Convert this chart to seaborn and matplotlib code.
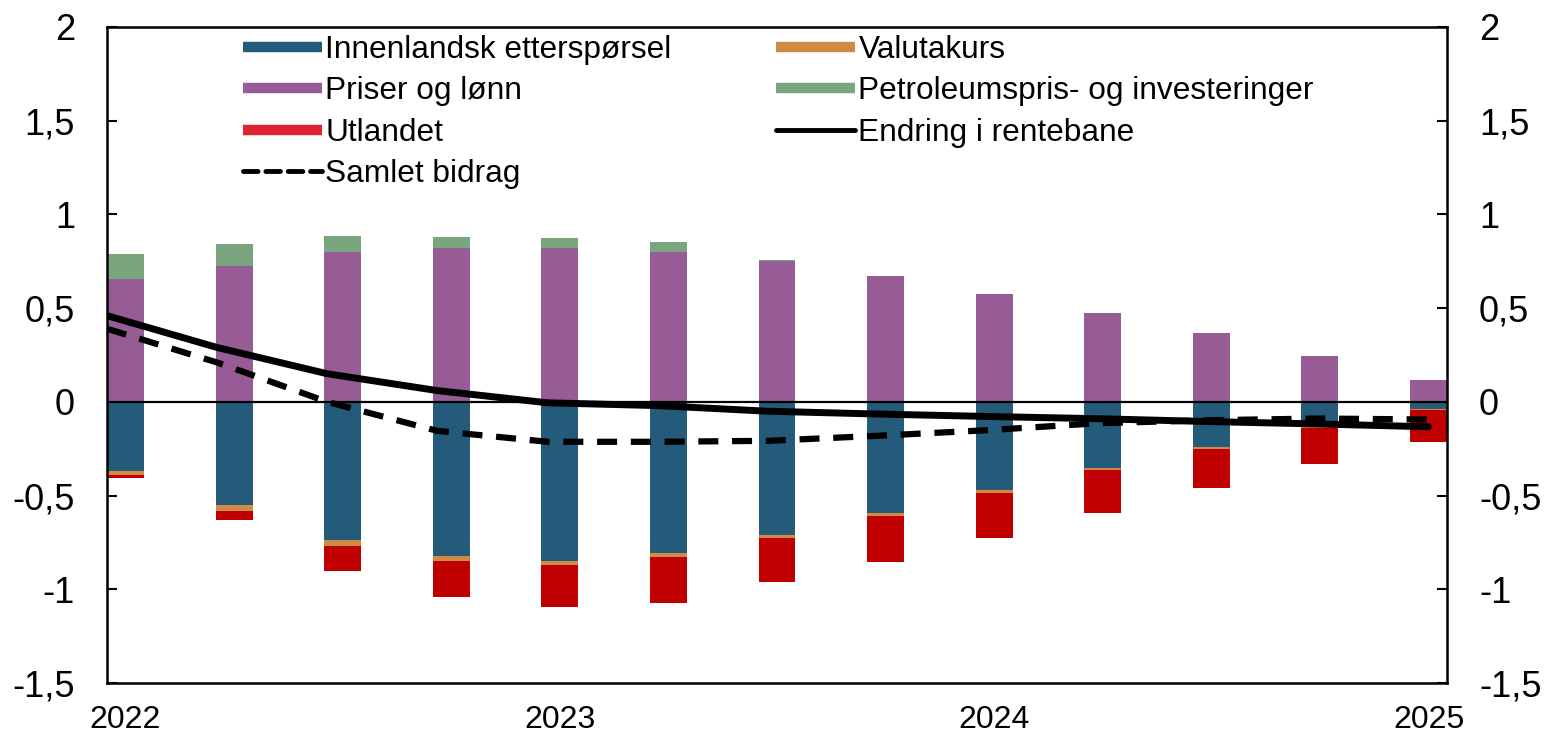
import numpy as np
import pandas as pd
import matplotlib
matplotlib.use("Agg")
import matplotlib.pyplot as plt
from matplotlib.lines import Line2D
from matplotlib.ticker import FuncFormatter
import seaborn as sns

# quarterly contributions (percentage points)
quarters = ["2022K1", "2022K2", "2022K3", "2022K4", "2023K1", "2023K2", "2023K3",
            "2023K4", "2024K1", "2024K2", "2024K3", "2024K4", "2025K1"]
innenlandsk = [-0.368, -0.551, -0.736, -0.822, -0.847, -0.807, -0.710,
               -0.594, -0.471, -0.354, -0.240, -0.132, -0.039]
valutakurs = [-0.022, -0.031, -0.031, -0.026, -0.026, -0.023, -0.019,
              -0.016, -0.013, -0.011, -0.009, -0.007, -0.007]
priser = [0.655, 0.726, 0.802, 0.822, 0.822, 0.802, 0.749,
          0.671, 0.578, 0.473, 0.367, 0.242, 0.116]
petroleum = [0.135, 0.117, 0.085, 0.060, 0.053, 0.052, 0.007,
             0.0, 0.0, 0.0, 0.0, 0.0, 0.0]
utlandet = [-0.015, -0.051, -0.137, -0.191, -0.219, -0.241, -0.233,
            -0.244, -0.245, -0.227, -0.212, -0.194, -0.167]
rentebane = [0.46, 0.29, 0.15, 0.06, -0.005, -0.02, -0.05,
             -0.065, -0.078, -0.09, -0.105, -0.118, -0.133]
samlet = [0.39, 0.21, 0.0, -0.155, -0.213, -0.213, -0.208,
          -0.181, -0.151, -0.114, -0.098, -0.089, -0.094]
year_labels = ["2022", "2023", "2024", "2025"]

c_blue = "#245a7a"
c_orange = "#cf8b44"
c_purple = "#975b95"
c_green = "#79a67f"
c_red = "#c00000"
c_red_leg = "#e0232f"

sns.set_theme(style="white")
plt.rcParams["font.family"] = ["Liberation Sans", "DejaVu Sans"]

fig = plt.figure(figsize=(15.47, 7.34), dpi=100)
ax = fig.add_axes([107 / 1547, 1 - 683 / 734, 1340 / 1547, 656 / 734])

# stacking: negatives down from zero, positives up from zero
inn = np.array(innenlandsk)
val = np.array(valutakurs)
pri = np.array(priser)
layers = [
    (innenlandsk, np.zeros(len(quarters)), c_blue),
    (valutakurs, inn, c_orange),
    (utlandet, inn + val, c_red),
    (priser, np.zeros(len(quarters)), c_purple),
    (petroleum, pri, c_green),
]
bw = 0.34
for vals, bottom, col in layers:
    sns.barplot(x=quarters, y=vals, order=quarters, bottom=bottom, color=col,
                saturation=1, width=bw, errorbar=None, linewidth=0, ax=ax)

ax.axhline(0, color="black", lw=1.6, zorder=3)

line_x = np.linspace(-bw / 2, len(quarters) - 1, len(quarters))
sns.lineplot(x=line_x, y=samlet, color="black", lw=4.5, linestyle=(0, (3.2, 2.2)),
             ax=ax, zorder=4)
sns.lineplot(x=line_x, y=rentebane, color="black", lw=5, ax=ax, zorder=5)

ax.set_xlim(-bw / 2, len(quarters) - 1 + bw / 2)
ax.set_ylim(-1.5, 2)
ax.set_yticks(np.arange(-1.5, 2.01, 0.5))
ax.yaxis.set_major_formatter(FuncFormatter(lambda v, p: f"{v:g}".replace(".", ",")))
ax.set_xticks(range(0, len(quarters), 4))
ax.set_xticklabels(year_labels)
ax.set_xlabel("")
ax.set_ylabel("")

ax.tick_params(axis="y", direction="in", left=True, right=True, labelleft=True,
               labelright=True, length=7, width=1.5, pad=23, labelsize=26, colors="black")
ax.tick_params(axis="x", bottom=False, length=0, pad=16, labelsize=23, colors="black")
for s in ax.spines.values():
    s.set_visible(True)
    s.set_color("black")
    s.set_linewidth(1.8)

handles = [
    Line2D([], [], color=c_blue, lw=7.5, solid_capstyle="butt"),
    Line2D([], [], color=c_purple, lw=7.5, solid_capstyle="butt"),
    Line2D([], [], color=c_red_leg, lw=7.5, solid_capstyle="butt"),
    Line2D([], [], color="black", lw=3.5, linestyle=(0, (3, 1.6)), dash_capstyle="round"),
    Line2D([], [], color=c_orange, lw=7.5, solid_capstyle="butt"),
    Line2D([], [], color=c_green, lw=7.5, solid_capstyle="butt"),
    Line2D([], [], color="black", lw=3.5, solid_capstyle="round"),
]
labels = ["Innenlandsk etterspørsel", "Priser og lønn", "Utlandet", "Samlet bidrag",
          "Valutakurs", "Petroleumspris- og investeringer", "Endring i rentebane"]
fig.legend(handles, labels, ncol=2, loc="upper left", bbox_to_anchor=(243 / 1547, 1 - 35 / 734),
           frameon=False, fontsize=22.8, handlelength=2.5, handletextpad=0.1,
           columnspacing=3.3, labelspacing=0.36, borderpad=0, borderaxespad=0,
           labelcolor="black")

fig.savefig("out.png", dpi=100)
